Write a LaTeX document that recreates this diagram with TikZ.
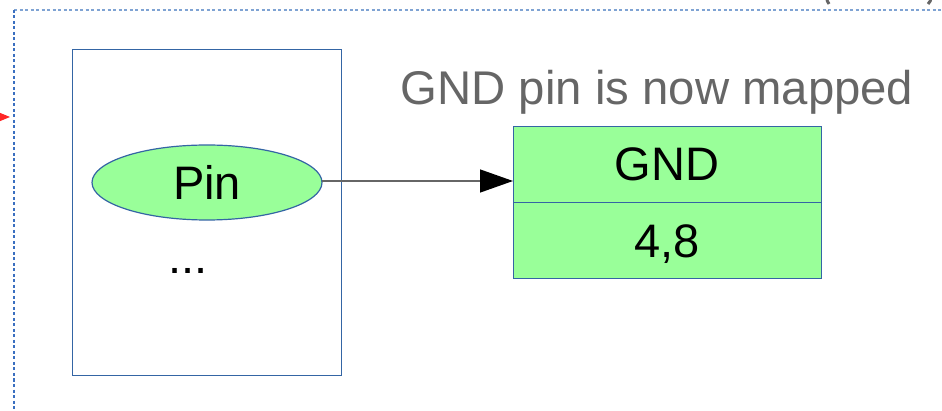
\documentclass[tikz,border=0pt]{standalone}
\usepackage{fontspec}
\setmainfont{Liberation Sans}
\usetikzlibrary{arrows.meta}
\definecolor{edgeblue}{HTML}{3465A4}
\definecolor{framelight}{HTML}{7FA3D3}
\definecolor{framedark}{HTML}{3A6FC0}
\definecolor{pingreen}{HTML}{99FF99}
\definecolor{captiongray}{HTML}{666666}
\tikzset{
  big/.style={font=\fontsize{47}{56}\selectfont},
  boxline/.style={draw=edgeblue, line width=1.2pt},
  greenfill/.style={fill=pingreen},
  connector/.style={draw=black!60, line width=1.4pt,
    -{Triangle[length=33pt,width=23pt,fill=black,color=black]}},
}
\begin{document}
\begin{tikzpicture}[x=1pt,y=-1pt]
\useasboundingbox (0,0) rectangle (942,411);
% page frame
\draw[framelight, line width=1.2pt, dash pattern=on 3pt off 2.5pt] (14,10) -- (942,10);
\draw[framedark, line width=1.2pt, dash pattern=on 3pt off 2.5pt] (14,10) -- (14,411);
% partial parentheses at the top edge
\draw[captiongray, line width=3pt] (831,-6) .. controls (826,-1) .. (829,4);
\draw[captiongray, line width=3pt] (926,-6) .. controls (932,-1) .. (928,4);
% incoming red arrow tip
\coordinate (redstart) at (-6,117);
\coordinate (redtip) at (10,117);
\draw[red!85, line width=1pt, -{Triangle[length=10pt,width=8pt]}] (redstart) -- (redtip);
% container
\node[boxline, fill=white, minimum width=269pt, minimum height=326pt, inner sep=0pt, anchor=north west] (cont) at (72,49) {};
% pin ellipse
\draw[boxline, greenfill] (207,182.5) ellipse [x radius=115, y radius=37.5];
\coordinate (pinR) at (322,181);
\node[big, anchor=base] (pin) at (207,200) {Pin};
\node[big, anchor=base] (dots) at (188,274) {...};
% record
\node[boxline, greenfill, minimum width=308pt, minimum height=76pt, inner sep=0pt, anchor=north west] (gnd) at (513,126) {};
\node[boxline, greenfill, minimum width=308pt, minimum height=76pt, inner sep=0pt, anchor=north west] (val) at (513,202) {};
\node[big, anchor=base] (gndtxt) at (667,181) {GND};
\node[big, anchor=base] (valtxt) at (667,258) {4,8};
% caption
\node[anchor=base, text=captiongray, font=\fontsize{47.3}{56}\selectfont] (caption) at (657,105) {GND pin is now mapped};
% mapping arrow
\draw[connector] (pinR) -- (gnd.west |- pinR);
\end{tikzpicture}
\end{document}
